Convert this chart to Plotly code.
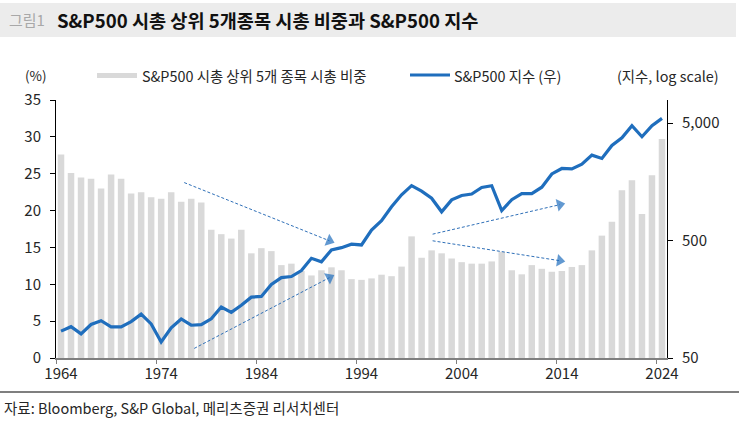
import plotly.graph_objects as go

# ---------------- data ----------------
years = list(range(1964, 2025))

top5_share = [
    27.6, 25.1, 24.5, 24.3, 23.0, 24.9, 24.3, 22.3, 22.5, 21.8,   # 1964-1973
    21.6, 22.5, 21.2, 21.6, 21.1, 17.4, 16.8, 16.2, 17.4, 14.2,   # 1974-1983
    14.9, 14.5, 12.6, 12.8, 11.8, 11.2, 11.9, 12.3, 11.9, 10.7,   # 1984-1993
    10.6, 10.8, 11.3, 11.1, 12.4, 16.5, 13.6, 14.6, 14.2, 13.5,   # 1994-2003
    13.0, 12.8, 12.8, 13.1, 14.4, 11.9, 11.35, 12.6, 12.1, 11.7,  # 2004-2013
    11.8, 12.35, 12.6, 14.6, 16.6, 18.5, 22.75, 24.1, 19.55, 24.8,  # 2014-2023
    29.7,                                                          # 2024
]

sp500 = [
    84.75, 92.43, 80.33, 96.47, 103.86, 92.06, 92.15, 102.09, 118.05, 97.55,        # 1964-1973
    68.56, 90.19, 107.46, 95.10, 96.11, 107.94, 135.76, 122.55, 140.64, 164.93,     # 1974-1983
    167.24, 211.28, 242.17, 247.08, 277.72, 353.40, 330.22, 417.09, 435.71, 466.45, # 1984-1993
    459.27, 615.93, 740.74, 970.43, 1229.23, 1469.25, 1320.28, 1148.08, 879.82, 1111.92,  # 1994-2003
    1211.92, 1248.29, 1418.30, 1468.36, 903.25, 1115.10, 1257.64, 1257.60, 1426.19, 1848.36,  # 2004-2013
    2058.90, 2043.94, 2238.83, 2673.61, 2506.85, 3230.78, 3756.07, 4766.18, 3839.50, 4769.83,  # 2014-2023
    5500.0,                                                                          # 2024
]

x_tick_years = [1964, 1974, 1984, 1994, 2004, 2014, 2024]
left_ticks = [0, 5, 10, 15, 20, 25, 30, 35]
right_ticks = [50, 500, 5000]
right_ticktext = ["50", "500", "5,000"]

# trend arrows (start -> end) in (year, %) units of the left axis
arrows = [
    ((1976.3, 23.8), (1990.8, 15.9)),
    ((1977.3, 1.3), (1990.8, 10.9)),
    ((2001.1, 16.8), (2013.8, 20.8)),
    ((2001.1, 15.9), (2013.8, 13.2)),
]

title_label = "그림1"
title_text = "S&P500 시총 상위 5개종목 시총 비중과 S&P500 지수"
bar_name = "S&P500 시총 상위 5개 종목 시총 비중"
line_name = "S&P500 지수 (우)"
source_text = "자료: Bloomberg, S&P Global, 메리츠증권 리서치센터"

# ---------------- styling ----------------
FONT = "Noto Sans CJK KR"
BAR_COLOR = "#d9d9d9"
LINE_COLOR = "#1f6ebd"
ARROW_COLOR = "#2f70b8"
TXT = "#262626"

W, H = 739, 422
L, R, T, B = 56, 72, 100, 64
PW, PH = W - L - R, H - T - B


def px(xp):
    return (xp - L) / PW


def py(yp):
    return (H - B - yp) / PH


fig = go.Figure()

fig.add_trace(go.Bar(
    x=years, y=top5_share, marker=dict(color=BAR_COLOR, line=dict(width=0)),
    name=bar_name, yaxis="y", hoverinfo="skip",
))

for (x0, y0), (x1, y1) in arrows:
    fig.add_trace(go.Scatter(
        x=[x0, x1], y=[y0, y1], mode="lines+markers", yaxis="y",
        line=dict(color=ARROW_COLOR, width=1, dash="3px,2px"),
        marker=dict(symbol="triangle-up", size=[0, 11], color=LINE_COLOR,
                    angleref="previous", line=dict(width=0)),
        hoverinfo="skip", showlegend=False,
    ))

fig.add_trace(go.Scatter(
    x=years, y=sp500, mode="lines", yaxis="y2", name=line_name,
    line=dict(color=LINE_COLOR, width=3.2), hoverinfo="skip",
))

fig.update_layout(
    width=W, height=H,
    margin=dict(l=L, r=R, t=T, b=B, pad=0),
    paper_bgcolor="white", plot_bgcolor="white",
    showlegend=False, hovermode=False,
    bargap=0.35,
    font=dict(family=FONT, size=14, color=TXT),
    xaxis=dict(
        range=[1963.5, 2024.5], tickmode="array", tickvals=x_tick_years,
        ticks="", showgrid=False, zeroline=False,
        showline=True, linecolor="#808080", linewidth=2,
        tickfont=dict(family=FONT, size=15, color=TXT),
        ticklabelstandoff=1,
        minor=dict(ticks="outside", tickmode="array",
                   tickvals=[v - 0.5 for v in x_tick_years],
                   ticklen=4, tickcolor="#808080", tickwidth=1, showgrid=False),
    ),
    yaxis=dict(
        range=[0, 35], tickmode="array", tickvals=left_ticks,
        ticks="outside", ticklen=5, tickcolor="black", tickwidth=1,
        showline=True, linecolor="black", linewidth=1,
        showgrid=False, zeroline=False,
        tickfont=dict(family=FONT, size=15, color=TXT),
        ticklabelstandoff=6,
    ),
    yaxis2=dict(
        overlaying="y", side="right", type="log",
        range=[1.699, 3.897], tickmode="array", tickvals=right_ticks,
        ticktext=right_ticktext,
        ticks="outside", ticklen=5, tickcolor="black", tickwidth=1,
        showline=True, linecolor="black", linewidth=1,
        showgrid=False, zeroline=False,
        tickfont=dict(family=FONT, size=15, color=TXT),
        ticklabelstandoff=6,
    ),
)

shapes = [
    # title band
    dict(type="rect", xref="paper", yref="paper", x0=px(0), x1=px(736), y0=py(37), y1=py(3),
         fillcolor="#ececec", line=dict(width=0), layer="below"),
    # legend swatches
    dict(type="rect", xref="paper", yref="paper", x0=px(97), x1=px(137), y0=py(78), y1=py(73),
         fillcolor=BAR_COLOR, line=dict(width=0)),
    dict(type="line", xref="paper", yref="paper", x0=px(410), x1=px(450), y0=py(75), y1=py(75),
         line=dict(color=LINE_COLOR, width=3)),
    # source separator
    dict(type="line", xref="paper", yref="paper", x0=px(0), x1=px(739), y0=py(392), y1=py(392),
         line=dict(color="black", width=1.2)),
]
fig.update_layout(shapes=shapes)

annos = [
    dict(text=title_label, x=px(7), y=py(20), xanchor="left", yanchor="middle",
         font=dict(family=FONT, size=15, color="#a8a8a8")),
    dict(text="<b>" + title_text + "</b>", x=px(55), y=py(20), xanchor="left", yanchor="middle",
         font=dict(family=FONT, size=18.6, color="#111111")),
    dict(text="(%)", x=px(36), y=py(75), xanchor="center", yanchor="middle",
         font=dict(family=FONT, size=13.5, color=TXT)),
    dict(text=bar_name, x=px(140), y=py(75), xanchor="left", yanchor="middle",
         font=dict(family=FONT, size=14.4, color=TXT)),
    dict(text=line_name, x=px(452), y=py(75), xanchor="left", yanchor="middle",
         font=dict(family=FONT, size=14.4, color=TXT)),
    dict(text="(지수, log scale)", x=px(721), y=py(75), xanchor="right", yanchor="middle",
         font=dict(family=FONT, size=14.4, color=TXT)),
    dict(text=source_text, x=px(2), y=py(407), xanchor="left", yanchor="middle",
         font=dict(family=FONT, size=14.5, color=TXT)),
]
for a in annos:
    a.update(xref="paper", yref="paper", showarrow=False)
fig.update_layout(annotations=annos)

fig.write_html(
    "out.html",
    config={"displayModeBar": False},
    post_script="document.body.style.margin='0';document.body.style.padding='0';",
)
